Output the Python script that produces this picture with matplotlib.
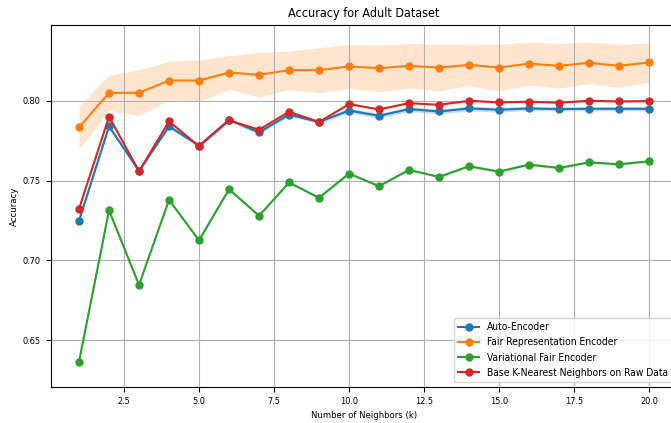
import numpy as np
import matplotlib
matplotlib.use("Agg")
import matplotlib.pyplot as plt

# Valores
k = list(range(1, 21))

auto_encoder = [0.7248, 0.7840, 0.7560, 0.7840, 0.7719, 0.7881, 0.7802, 0.7914, 0.7867, 0.7939,
                0.7906, 0.7948, 0.7933, 0.7952, 0.7944, 0.7952, 0.7948, 0.7950, 0.7950, 0.7950]
auto_encoder_std = [0.0010, 0.0012, 0.0010, 0.0012, 0.0010, 0.0012, 0.0012, 0.0012, 0.0010, 0.0015,
                    0.0015, 0.0015, 0.0015, 0.0015, 0.0015, 0.0012, 0.0012, 0.0012, 0.0012, 0.0012]

fair_rep = [0.7833, 0.8050, 0.8050, 0.8127, 0.8127, 0.8177, 0.8163, 0.8192, 0.8192, 0.8215,
            0.8204, 0.8219, 0.8208, 0.8225, 0.8208, 0.8233, 0.8219, 0.8238, 0.8219, 0.8240]
fair_rep_std = [0.0135, 0.0110, 0.0143, 0.0120, 0.0130, 0.0105, 0.0140, 0.0120, 0.0140, 0.0137,
                0.0145, 0.0140, 0.0145, 0.0130, 0.0145, 0.0135, 0.0140, 0.0130, 0.0135, 0.0122]

variational = [0.6365, 0.7313, 0.6846, 0.7379, 0.7125, 0.7446, 0.7279, 0.7488, 0.7392, 0.7544,
               0.7465, 0.7567, 0.7523, 0.7590, 0.7556, 0.7600, 0.7579, 0.7614, 0.7602, 0.7621]
variational_std = [0.0008] * 20

base_knn = [0.7323, 0.7900, 0.7558, 0.7871, 0.7715, 0.7877, 0.7819, 0.7931, 0.7867, 0.7979,
            0.7946, 0.7985, 0.7975, 0.8000, 0.7990, 0.7994, 0.7988, 0.8000, 0.7996, 0.7998]
base_knn_std = [0.0005] * 20

series = [
    ("Auto-Encoder", auto_encoder, auto_encoder_std, "#1f77b4", 0.25),
    ("Fair Representation Encoder", fair_rep, fair_rep_std, "#ff7f0e", 0.2),
    ("Variational Fair Encoder", variational, variational_std, "#2ca02c", 0.2),
    ("Base K-Nearest Neighbors on Raw Data", base_knn, base_knn_std, "#d62728", 0.2),
]

# fonte mais estreita, parecida com a do original
plt.rcParams["font.stretch"] = "condensed"

fig = plt.figure(figsize=(6.71, 4.23), dpi=100)
# o eixo passa da borda direita, como no recorte original
ax = fig.add_axes([0.0753, 0.0851, 0.9344, 0.8558])

for nome, media, desvio, cor, alfa in series:
    media = np.array(media)
    desvio = np.array(desvio)
    ax.plot(k, media, marker="o", markersize=5, linewidth=1.5, color=cor, label=nome)
    ax.fill_between(k, media - desvio, media + desvio, color=cor, alpha=alfa, linewidth=0)

ax.set_xlim(0.05, 20.95)
ax.set_ylim(0.6206, 0.8475)
ax.set_yticks([0.65, 0.70, 0.75, 0.80])
ax.set_title("Accuracy for Adult Dataset", fontsize=9)
ax.set_xlabel("Number of Neighbors (k)", fontsize=6.8)
ax.set_ylabel("Accuracy", fontsize=6.8, labelpad=2.5)
ax.tick_params(labelsize=6.6)
ax.grid(True)
ax.legend(loc="lower right", fontsize=7.4)

plt.savefig("out.png", dpi=100)
plt.close()
